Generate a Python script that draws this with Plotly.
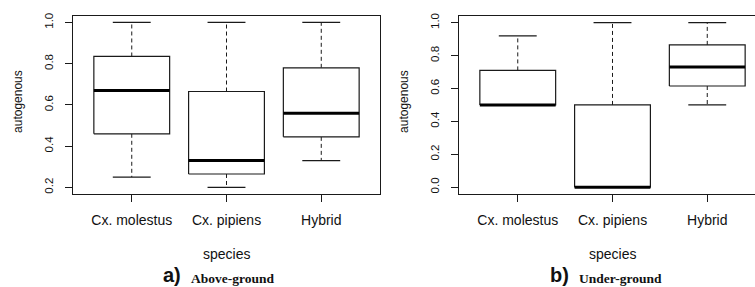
import plotly.graph_objects as go

# ---------------- data ----------------
species = ["Cx. molestus", "Cx. pipiens", "Hybrid"]
positions = [1, 2, 3]

above_low = [0.25, 0.20, 0.33]
above_q1 = [0.46, 0.265, 0.445]
above_med = [0.67, 0.33, 0.56]
above_q3 = [0.835, 0.665, 0.78]
above_high = [1.0, 1.0, 1.0]

under_low = [0.5, 0.0, 0.5]
under_q1 = [0.5, 0.0, 0.615]
under_med = [0.5, 0.0, 0.73]
under_q3 = [0.71, 0.5, 0.865]
under_high = [0.92, 1.0, 1.0]

yticks_a = [0.2, 0.4, 0.6, 0.8, 1.0]
yticks_b = [0.0, 0.2, 0.4, 0.6, 0.8, 1.0]

# ---------------- style ----------------
W, H = 755, 287
INK = "#1a1a1a"
BOXW = 0.8
CAPW = 0.4
SANS = "Liberation Sans, Arial, sans-serif"
SERIF = "Liberation Serif, Times New Roman, serif"

fig = go.Figure()


def add_panel(xa, ya, low, q1, med, q3, high):
    wx, wy, cx, cy, bx, by, mx, my = [], [], [], [], [], [], [], []
    for p, lo, a, m, b, hi in zip(positions, low, q1, med, q3, high):
        wx += [p, p, None, p, p, None]
        wy += [b, hi, None, a, lo, None]
        cx += [p - CAPW / 2, p + CAPW / 2, None, p - CAPW / 2, p + CAPW / 2, None]
        cy += [hi, hi, None, lo, lo, None]
        bx += [p - BOXW / 2, p + BOXW / 2, p + BOXW / 2, p - BOXW / 2, p - BOXW / 2, None]
        by += [a, a, b, b, a, None]
        mx += [p - BOXW / 2, p + BOXW / 2, None]
        my += [m, m, None]
    common = dict(xaxis=xa, yaxis=ya, mode="lines", showlegend=False, hoverinfo="skip")
    fig.add_trace(go.Scatter(x=wx, y=wy, line=dict(color=INK, width=1, dash="4px,3px"), **common))
    fig.add_trace(go.Scatter(x=cx, y=cy, line=dict(color=INK, width=1.2), **common))
    fig.add_trace(go.Scatter(x=bx, y=by, fill="toself", fillcolor="white",
                             line=dict(color=INK, width=1.2), **common))
    fig.add_trace(go.Scatter(x=mx, y=my, line=dict(color="black", width=3), **common))


add_panel("x", "y", above_low, above_q1, above_med, above_q3, above_high)
add_panel("x2", "y2", under_low, under_q1, under_med, under_q3, under_high)

PX_PER_UNIT = 307 / 3.24
ydom = [1 - 193 / H, 1 - 13 / H]

xcommon = dict(
    tickmode="array", tickvals=positions, ticktext=species,
    ticks="outside", ticklen=7, tickwidth=1, tickcolor=INK,
    showline=True, mirror=True, linecolor=INK, linewidth=1,
    showgrid=False, zeroline=False,
    tickfont=dict(family=SANS, size=14, color="#111"),
    ticklabelstandoff=6, fixedrange=True,
)
ycommon = dict(
    tickmode="array", ticks="outside", ticklen=7, tickwidth=1, tickcolor=INK,
    showline=True, linecolor=INK, linewidth=1,
    showgrid=False, zeroline=False, tickangle=-90,
    tickfont=dict(family=SANS, size=11.5, color="#111"),
    ticklabelstandoff=7, fixedrange=True,
)

fig.update_layout(
    width=W, height=H,
    margin=dict(l=0, r=0, t=0, b=0),
    paper_bgcolor="white", plot_bgcolor="white",
    xaxis=dict(domain=[73 / W, 380 / W], range=[0.38, 3.62], anchor="y", **xcommon),
    yaxis=dict(domain=ydom, range=[0.168, 1.032], anchor="x", mirror=True,
               tickvals=yticks_a, ticktext=[f"{v:.1f}" for v in yticks_a], **ycommon),
    xaxis2=dict(domain=[459 / W, 1.0], range=[0.38, 0.38 + (W - 459) / PX_PER_UNIT],
                anchor="y2", **xcommon),
    yaxis2=dict(domain=ydom, range=[-0.0416, 1.0416], anchor="x2", mirror=False,
                tickvals=yticks_b, ticktext=[f"{v:.1f}" for v in yticks_b], **ycommon),
)

annos = []
for xc, left in [(226.5, 73), (612.5, 459)]:
    annos.append(dict(text="species", x=xc / W, y=1 - 254 / H, xref="paper", yref="paper",
                      showarrow=False, xanchor="center", yanchor="middle",
                      font=dict(family=SANS, size=14, color="#111")))
    annos.append(dict(text="autogenous", x=(left - 55) / W, y=1 - 100 / H, xref="paper",
                      yref="paper", showarrow=False, textangle=-90, xanchor="center",
                      yanchor="middle", font=dict(family=SANS, size=12, color="#111")))

for lab, sub, xr, xl in [("a)", "Above-ground", 183, 189), ("b)", "Under-ground", 571, 577)]:
    annos.append(dict(text=f"<b>{lab}</b>", x=xr / W, y=1 - 275 / H, xref="paper", yref="paper",
                      showarrow=False, xanchor="right", yanchor="middle",
                      font=dict(family=SANS, size=20, color="#111")))
    annos.append(dict(text=f"<b>{sub}</b>", x=xl / W, y=1 - 278 / H, xref="paper", yref="paper",
                      showarrow=False, xanchor="left", yanchor="middle",
                      font=dict(family=SERIF, size=13.5, color="#111")))

fig.update_layout(annotations=annos)
fig.write_html(
    "out.html",
    config={"displayModeBar": False, "staticPlot": True},
    post_script="document.body.style.margin='0';document.body.style.overflow='hidden';",
)
